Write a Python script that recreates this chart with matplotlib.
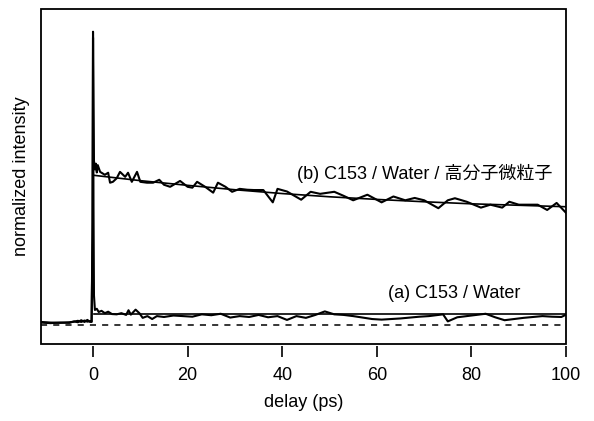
import matplotlib
matplotlib.use("Agg")
import matplotlib.pyplot as plt
from matplotlib.patches import Rectangle

plt.rcParams['font.family'] = ['Liberation Sans', 'Noto Sans CJK JP']
plt.rcParams['font.size'] = 13

# (b) C153 / Water / polymer particles : measured trace
t_b = [-11, -9, -7, -5, -4, -3.2, -2.5, -1.8, -1.2, -0.6, -0.3, -0.1, 0, 0.1, 0.2, 0.4,
       0.6, 0.8, 1.0, 1.5, 2.5, 3.2, 3.6, 4.2, 5.0, 5.7, 6.8, 7.4, 8.2, 9.3, 10, 11.4,
       12.7, 14, 15, 16.3, 18.4, 20, 21, 22, 23.7, 25.4, 26.4, 28, 29.4, 31, 32.6, 34,
       36, 38, 39, 41, 44, 46, 48, 51, 53, 55, 58, 61, 63.5, 66, 68, 70, 73, 75, 76.5,
       79, 82, 84, 86.5, 88, 90, 92, 94, 96, 98, 100]
v_b = [0.008, 0.006, 0.008, 0.007, 0.012, 0.009, 0.016, 0.010, 0.017, 0.010, 0.012, 0.30, 1.00, 0.75, 0.56, 0.53,
       0.55, 0.52, 0.545, 0.522, 0.512, 0.519, 0.485, 0.488, 0.500, 0.522, 0.505, 0.519, 0.488, 0.522, 0.488, 0.485,
       0.485, 0.495, 0.478, 0.471, 0.491, 0.471, 0.468, 0.488, 0.471, 0.451, 0.485, 0.471, 0.454, 0.464, 0.461, 0.460,
       0.460, 0.418, 0.464, 0.455, 0.427, 0.454, 0.447, 0.454, 0.440, 0.425, 0.444, 0.418, 0.438, 0.425, 0.433, 0.425, 0.398, 0.425, 0.432,
       0.420, 0.400, 0.410, 0.400, 0.420, 0.410, 0.410, 0.410, 0.392, 0.416, 0.382]

# (a) C153 / Water : measured trace
t_a = [-11, -9, -7, -5, -4, -3.2, -2.5, -1.8, -1.2, -0.6, -0.3, -0.1, 0, 0.1, 0.2, 0.4,
       0.8, 1.2, 1.8, 2.5, 3.2, 4, 5, 6, 7, 7.5, 8, 9, 9.8, 10.5, 11.5, 12.5, 13.5, 15,
       17, 19, 21, 23, 25, 27, 29, 31, 33, 35, 37, 39, 41, 43, 45, 47, 49, 51, 53, 55,
       57, 59, 61, 63, 65, 67, 69, 71, 73, 74, 75, 77, 79, 81, 83, 85, 87, 89, 91, 93,
       95, 97, 99, 100]
v_a = [0.010, 0.008, 0.007, 0.009, 0.011, 0.014, 0.010, 0.015, 0.011, 0.013, 0.010, 0.35, 0.98, 0.40, 0.10, 0.051,
       0.055, 0.044, 0.048, 0.040, 0.045, 0.037, 0.036, 0.040, 0.034, 0.050, 0.035, 0.052, 0.040, 0.024, 0.030, 0.020, 0.030, 0.027,
       0.032, 0.030, 0.028, 0.036, 0.033, 0.038, 0.025, 0.030, 0.027, 0.034, 0.026, 0.030, 0.017, 0.030, 0.024, 0.034, 0.046, 0.036, 0.034, 0.030,
       0.025, 0.020, 0.018, 0.020, 0.022, 0.025, 0.028, 0.030, 0.034, 0.036, 0.012, 0.026, 0.030, 0.034, 0.038, 0.026, 0.016, 0.020, 0.024, 0.027,
       0.030, 0.028, 0.027, 0.035]

# fitted curves
t_fit = [0.3, 10, 20, 30, 40, 50, 60, 70, 80, 90, 100]
fit_b = [0.510, 0.492, 0.476, 0.461, 0.448, 0.437, 0.428, 0.420, 0.413, 0.408, 0.403]
fit_a = [0.036, 0.036, 0.036, 0.036, 0.036, 0.036, 0.036, 0.036, 0.036, 0.036, 0.036]

xticks = [0, 20, 40, 60, 80, 100]

fig = plt.figure(figsize=(5.94, 4.21), dpi=100)
ax = fig.add_axes([0.069, 0.183, 0.884, 0.796])

ax.axhline(0, color='black', lw=1.1, ls=(0, (4, 4)))
ax.plot(t_a, v_a, color='black', lw=1.5)
ax.plot(t_b, v_b, color='black', lw=1.5)
ax.plot(t_fit, fit_a, color='black', lw=1.2)
ax.plot(t_fit, fit_b, color='black', lw=1.2)

ax.text(97, 0.518, '(b) C153 / Water / 高分子微粒子', ha='right', va='center', fontsize=13)
ax.text(90.3, 0.106, '(a) C153 / Water', ha='right', va='center', fontsize=13)

ax.set_xlim(-11, 100)
ax.set_ylim(-0.065, 1.078)
ax.set_xticks(xticks)
ax.set_yticks([])
for s in ax.spines.values():
    s.set_visible(False)
ax.spines['bottom'].set_position(('outward', 1.5))
ax.add_patch(Rectangle((0, 0), 1, 1, transform=ax.transAxes, fill=False,
                       lw=1.3, edgecolor='black', clip_on=False))
ax.tick_params(axis='x', direction='out', length=8, width=1.2, pad=7, labelsize=13)
ax.set_xlabel('delay (ps)', fontsize=13, labelpad=7.5)
ax.set_ylabel('normalized intensity', fontsize=13, labelpad=8)

fig.savefig('out.png', dpi=100)
